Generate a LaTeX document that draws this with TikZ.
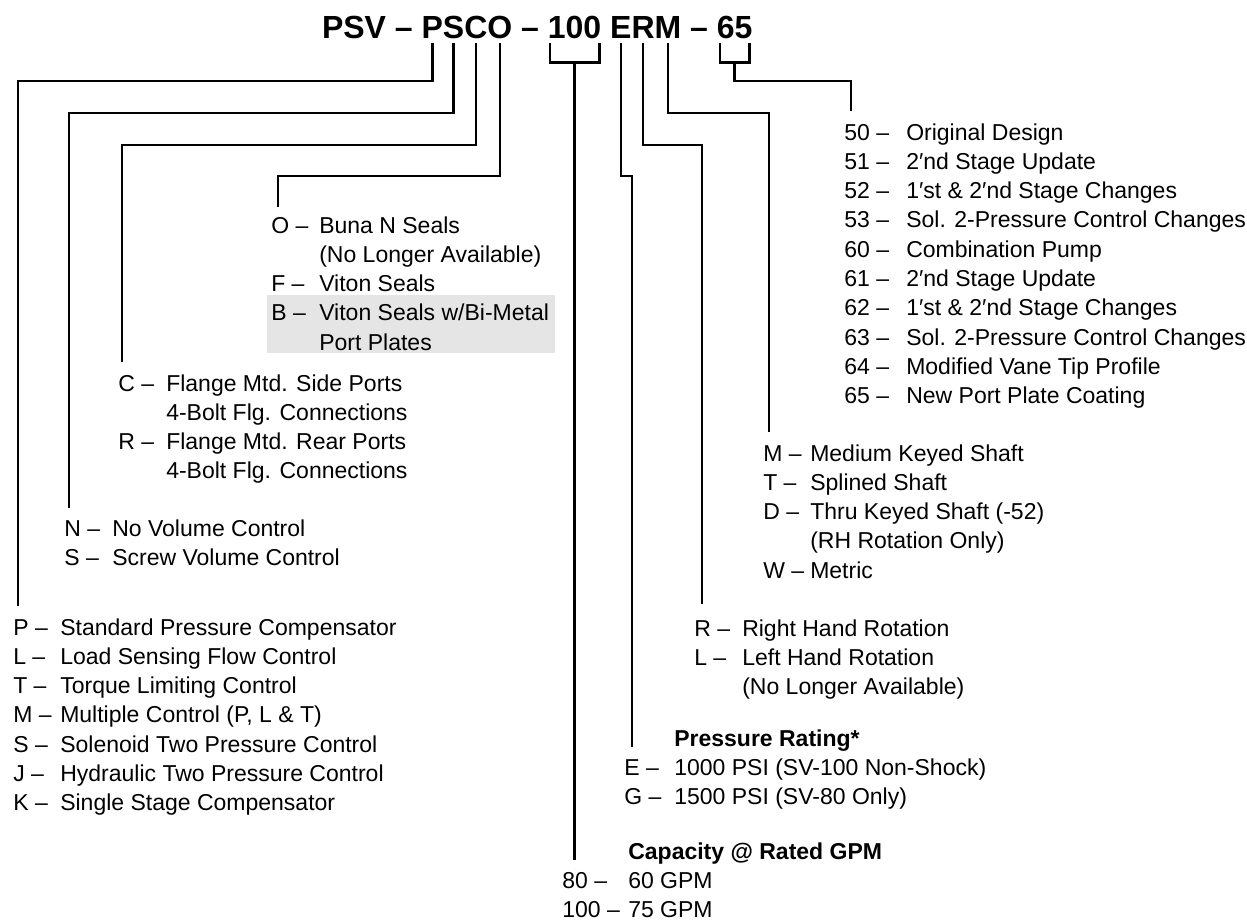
\documentclass[tikz,border=0pt]{standalone}
\usepackage{fontspec}
\setmainfont{Liberation Sans}
\usepackage{array}

% Liste: Schluessel | Beschreibung
\newcommand{\codelist}[2]{\begin{tabular}[t]{@{}p{#1}@{}l@{}}#2\end{tabular}}

\begin{document}
\begin{tikzpicture}[
    x=1pt, y=-1pt,
    line width=2.6pt, line join=miter,
    ttl/.style={font=\fontsize{32}{38}\selectfont\bfseries,
        inner xsep=0pt, inner ysep=5pt, outer sep=0pt, anchor=base west},
    lst/.style={font=\fontsize{23}{29.3}\selectfont,
        inner sep=0pt, anchor=base west}
    ]
    \useasboundingbox (0,0) rectangle (1247,921);

    % Typenschluessel
    \node[ttl] (tPSV) at (322,38) {PSV};
    \node[ttl] (tD1) at (tPSV.base east) {\ --\ \null};
    \node[ttl] (tP) at (tD1.base east) {P};
    \node[ttl] (tS) at (tP.base east) {S};
    \node[ttl] (tC) at (tS.base east) {C};
    \node[ttl] (tO) at (tC.base east) {O};
    \node[ttl] (tD2) at (tO.base east) {\ --\ \null};
    \node[ttl] (t100) at (tD2.base east) {100};
    \node[ttl] (tE) at ([xshift=8.9pt]t100.base east) {E};
    \node[ttl] (tR) at (tE.base east) {R};
    \node[ttl] (tM) at (tR.base east) {M};
    \node[ttl] (tD3) at (tM.base east) {\ --\ \null};
    \node[ttl] (t65) at (tD3.base east) {65};

    % Hinterlegung
    \fill[gray!20] (267,295) rectangle (555,353);

    % Listen
    \node[lst] (lstP) at (12,635) {\codelist{47pt}{%
        P -- & Standard Pressure Compensator\\
        L -- & Load Sensing Flow Control\\
        T -- & Torque Limiting Control\\
        M -- & Multiple Control (P, L \& T)\\
        S -- & Solenoid Two Pressure Control\\
        J -- & Hydraulic Two Pressure Control\\
        K -- & Single Stage Compensator}};
    \node[lst] (lstS) at (63,536) {\codelist{48pt}{%
        N -- & No Volume Control\\
        S -- & Screw Volume Control}};
    \node[lst] (lstC) at (117,391) {\codelist{48pt}{%
        C -- & Flange Mtd. Side Ports\\
             & 4-Bolt Flg. Connections\\
        R -- & Flange Mtd. Rear Ports\\
             & 4-Bolt Flg. Connections}};
    \node[lst] (lstO) at (270,233) {\codelist{48pt}{%
        O -- & Buna N Seals\\
             & (No Longer Available)\\
        F -- & Viton Seals\\
        B -- & Viton Seals w/Bi-Metal\\
             & Port Plates}};
    \node[lst] (lst65) at (843,140) {\codelist{62pt}{%
        50 -- & Original Design\\
        51 -- & 2′nd Stage Update\\
        52 -- & 1′st \& 2′nd Stage Changes\\
        53 -- & Sol. 2-Pressure Control Changes\\
        60 -- & Combination Pump\\
        61 -- & 2′nd Stage Update\\
        62 -- & 1′st \& 2′nd Stage Changes\\
        63 -- & Sol. 2-Pressure Control Changes\\
        64 -- & Modified Vane Tip Profile\\
        65 -- & New Port Plate Coating}};
    \node[lst] (lstM) at (762,461) {\codelist{47pt}{%
        M -- & Medium Keyed Shaft\\
        T -- & Splined Shaft\\
        D -- & Thru Keyed Shaft (-52)\\
             & (RH Rotation Only)\\
        W -- & Metric}};
    \node[lst] (lstR) at (693,636) {\codelist{48pt}{%
        R -- & Right Hand Rotation\\
        L -- & Left Hand Rotation\\
             & (No Longer Available)}};
    \node[lst] (lstE) at (623,746) {\codelist{50pt}{%
             & \textbf{Pressure Rating*}\\
        E -- & 1000 PSI (SV-100 Non-Shock)\\
        G -- & 1500 PSI (SV-80 Only)}};
    \node[lst] (lst100) at (561,859) {\codelist{66pt}{%
              & \textbf{Capacity @ Rated GPM}\\
        80 -- & 60 GPM\\
        100 --& 75 GPM}};

    % Leitungsenden
    \coordinate (eP) at (18,606);
    \coordinate (eS) at (69,508);
    \coordinate (eC) at (122,362);
    \coordinate (eO) at (278,207);
    \coordinate (eE) at (632,747);
    \coordinate (eR) at (702,604);
    \coordinate (eM) at (769,432);
    \coordinate (e65) at (851,111);
    \coordinate (e100) at (t100.south |- 0,860);

    % Leitungen
    \foreach \k/\lvl in {P/81, S/113, C/145, O/176, E/176, R/145, M/113}
        \draw (t\k.south) -- (t\k.south |- 0,\lvl) -| (e\k);

    % Klammern
    \draw ([xshift=2pt]t100.south west) -- ++(0,19) -| ([xshift=-2pt]t100.south east);
    \draw (t100.south |- 0,62) -- (e100);
    \draw ([xshift=3pt]t65.south west) -- ++(0,19) -| ([xshift=-3pt]t65.south east);
    \draw (t65.south |- 0,62) -- ++(0,19) -| (e65);
\end{tikzpicture}
\end{document}
